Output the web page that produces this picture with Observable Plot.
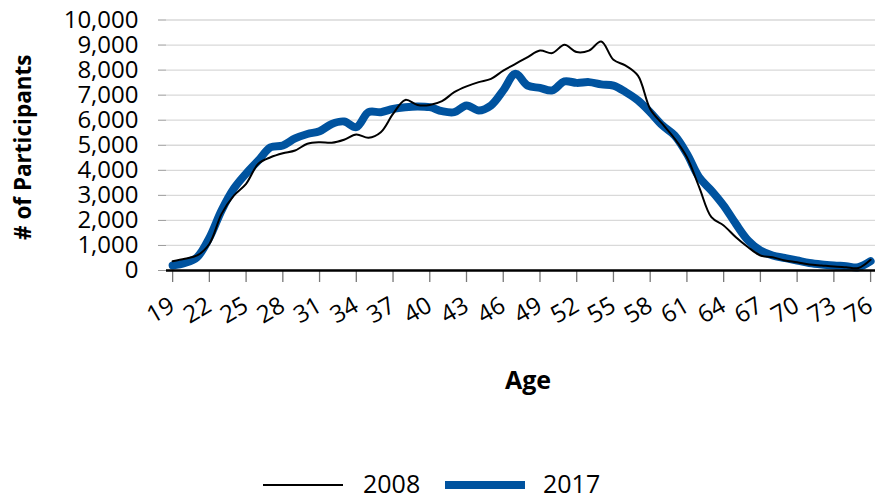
<!DOCTYPE html>
<html>
<head>
<meta charset="utf-8">
<script src="https://cdn.jsdelivr.net/npm/d3@7"></script>
<script src="https://cdn.jsdelivr.net/npm/@observablehq/plot@0.6"></script>
<style>
  body { margin: 0; background: #fff; font-family: "Open Sans", sans-serif; }
  #wrap { position: relative; width: 881px; height: 502px; }
  #legend { position: absolute; left: 0; top: 462px; width: 881px; height: 40px; font-size: 25px; color: #000; }
  #legend .sw { position: absolute; }
  #legend .lb { position: absolute; line-height: 1; }
</style>
</head>
<body>
<div id="wrap">
  <div id="chart"></div>
  <div id="legend"></div>
</div>
<script>
const ages = [19,20,21,22,23,24,25,26,27,28,29,30,31,32,33,34,35,36,37,38,39,40,41,42,43,44,45,46,47,48,49,50,51,52,53,54,55,56,57,58,59,60,61,62,63,64,65,66,67,68,69,70,71,72,73,74,75,76];
const v2008 = [370,470,600,1060,2260,2990,3460,4260,4520,4680,4790,5060,5120,5100,5220,5430,5300,5520,6250,6810,6610,6610,6760,7120,7350,7520,7650,7980,8250,8520,8780,8680,9010,8720,8780,9140,8410,8180,7780,6450,5850,5260,4520,3330,2130,1800,1330,930,600,530,400,330,240,200,160,130,100,430];
const v2017 = [200,300,530,1300,2400,3270,3870,4390,4920,4990,5270,5450,5560,5850,5950,5720,6320,6320,6450,6520,6550,6520,6360,6320,6590,6390,6590,7190,7850,7380,7290,7190,7550,7490,7520,7430,7380,7120,6790,6320,5790,5390,4660,3720,3190,2590,1860,1200,800,600,500,400,300,240,200,170,130,370];
const xTicks = [19,22,25,28,31,34,37,40,43,46,49,52,55,58,61,64,67,70,73,76];
const yTicks = [0,1000,2000,3000,4000,5000,6000,7000,8000,9000,10000];
const seriesNames = ["2008","2017"];
const seriesColors = ["#000000","#00539f"];
const seriesWidths = [2,8];
const xTitle = "Age";
const yTitle = "# of Participants";

const rows2008 = ages.map((a,i)=>({age:a, v:v2008[i]}));
const rows2017 = ages.map((a,i)=>({age:a, v:v2017[i]}));

const chart = Plot.plot({
  width: 881,
  height: 460,
  marginLeft: 166,
  marginRight: 6,
  marginTop: 19.5,
  marginBottom: 190,
  style: {fontFamily: "'Open Sans', sans-serif", fontSize: "24px", color: "#000", background: "#fff"},
  x: {domain: [18.5, 76.4]},
  y: {domain: [0, 10000]},
  marks: [
    Plot.gridY(yTicks, {stroke: "#d9d9d9", strokeOpacity: 1, strokeWidth: 1.3}),
    Plot.axisY({ticks: yTicks, tickSize: 8, tickPadding: 20, stroke: "#999", tickFormat: d3.format(","), label: null, fontSize: 24}),
    Plot.axisX({ticks: xTicks, tickSize: 12, tickPadding: 21, tickRotate: -30, stroke: "#777", strokeWidth: 1.3, label: null, fontSize: 24}),
    Plot.text([yTitle], {frameAnchor: "left", textAnchor: "middle", rotate: -90, dx: -143, dy: 2, fontWeight: "bold", fontSize: 22.5}),
    Plot.text([xTitle], {frameAnchor: "bottom", dy: 118, dx: 7, fontWeight: "bold", fontSize: 25}),
    Plot.line(rows2017, {x: "age", y: "v", stroke: seriesColors[1], strokeWidth: seriesWidths[1], curve: "catmull-rom"}),
    Plot.line(rows2008, {x: "age", y: "v", stroke: seriesColors[0], strokeWidth: seriesWidths[0], curve: "catmull-rom"}),
    Plot.ruleY([0], {stroke: "#000", strokeWidth: 2.3})
  ]
});
document.getElementById("chart").appendChild(chart);

const legend = document.getElementById("legend");
const swX = [263, 445];
const lbX = [363, 543];
seriesNames.forEach((name, i) => {
  const sw = document.createElement("div");
  sw.className = "sw";
  sw.style.left = swX[i] + "px";
  sw.style.width = "80px";
  sw.style.height = seriesWidths[i] + "px";
  sw.style.top = (23 - seriesWidths[i]/2) + "px";
  sw.style.background = seriesColors[i];
  legend.appendChild(sw);
  const lb = document.createElement("div");
  lb.className = "lb";
  lb.style.left = lbX[i] + "px";
  lb.style.top = "9px";
  lb.textContent = name;
  legend.appendChild(lb);
});
</script>
</body>
</html>
